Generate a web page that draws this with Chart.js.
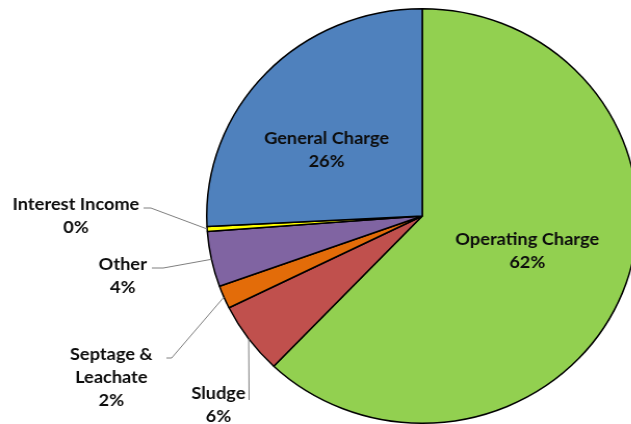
<!DOCTYPE html>
<html>
<head>
<meta charset="utf-8">
<script src="https://cdn.jsdelivr.net/npm/chart.js@4.4.1/dist/chart.umd.min.js"></script>
<style>
  html, body { margin: 0; padding: 0; background: #fff; overflow: hidden; }
  /* the reference picture is slightly stretched sideways */
  #wrap { position: absolute; left: 0; top: 0; width: 620px; height: 424px;
          transform: scaleX(1.04); transform-origin: 0 0; }
</style>
</head>
<body>
<div id="wrap"><canvas id="pieChart"></canvas></div>
<script>
var categories = ['Operating Charge', 'Sludge', 'Septage & Leachate', 'Other', 'Interest Income', 'General Charge'];
var shares = [62.1, 5.6, 1.8, 4.3, 0.4, 25.8];
var sliceColors = ['#92D050', '#C0504D', '#E36C09', '#8064A2', '#FFFF00', '#4F81BD'];

// where each label sits (canvas px), with optional leader line start / elbow
var labelSpots = [
    {x: 507, y: 239, lines: ['Operating Charge']},
    {x: 210, y: 393, lines: ['Sludge'], start: [239.5, 400], elbow: [239.5, 398]},
    {x: 107, y: 354, lines: ['Septage &', 'Leachate'], start: [160, 358], elbow: [165, 358]},
    {x: 118, y: 264, lines: ['Other'], start: [146, 268], elbow: [157, 268]},
    {x: 73, y: 204, lines: ['Interest Income'], start: [138, 208], elbow: [145, 208]},
    {x: 314, y: 138, lines: ['General Charge']}
];

var pieLabels = {
    id: 'pieLabels',
    afterDraw: function (chart) {
        var ctx = chart.ctx;
        var meta = chart.getDatasetMeta(0);
        ctx.save();
        meta.data.forEach(function (arc, i) {
            var spot = labelSpots[i];
            var p = arc.getProps(['x', 'y', 'startAngle', 'endAngle', 'outerRadius'], true);
            var mid = (p.startAngle + p.endAngle) / 2;
            if (spot.start) {
                ctx.strokeStyle = '#7f7f7f';
                ctx.lineWidth = 1;
                ctx.beginPath();
                ctx.moveTo(spot.start[0], spot.start[1]);
                ctx.lineTo(spot.elbow[0], spot.elbow[1]);
                ctx.lineTo(p.x + Math.cos(mid) * p.outerRadius, p.y + Math.sin(mid) * p.outerRadius);
                ctx.stroke();
            }
            var text = spot.lines.concat([Math.round(shares[i]) + '%']);
            ctx.fillStyle = '#0d0d0d';
            ctx.font = 'bold 17.5px Lato';
            ctx.textAlign = 'center';
            ctx.textBaseline = 'middle';
            text.forEach(function (t, k) {
                ctx.fillText(t, spot.x, spot.y + k * 23);
            });
        });
        ctx.restore();
    }
};

var ctx = document.getElementById('pieChart');
var myPieChart = new Chart(ctx, {
    type: 'pie',
    data: {
        labels: categories,
        datasets: [{
            data: shares,
            backgroundColor: sliceColors,
            borderColor: '#000',
            borderWidth: 1.5
        }]
    },
    options: {
        responsive: true,
        maintainAspectRatio: false,
        animation: false,
        layout: {padding: {left: 198, right: 6, top: 8, bottom: 0}},
        plugins: {
            legend: {display: false},
            tooltip: {enabled: false}
        }
    },
    plugins: [pieLabels]
});
</script>
</body>
</html>
